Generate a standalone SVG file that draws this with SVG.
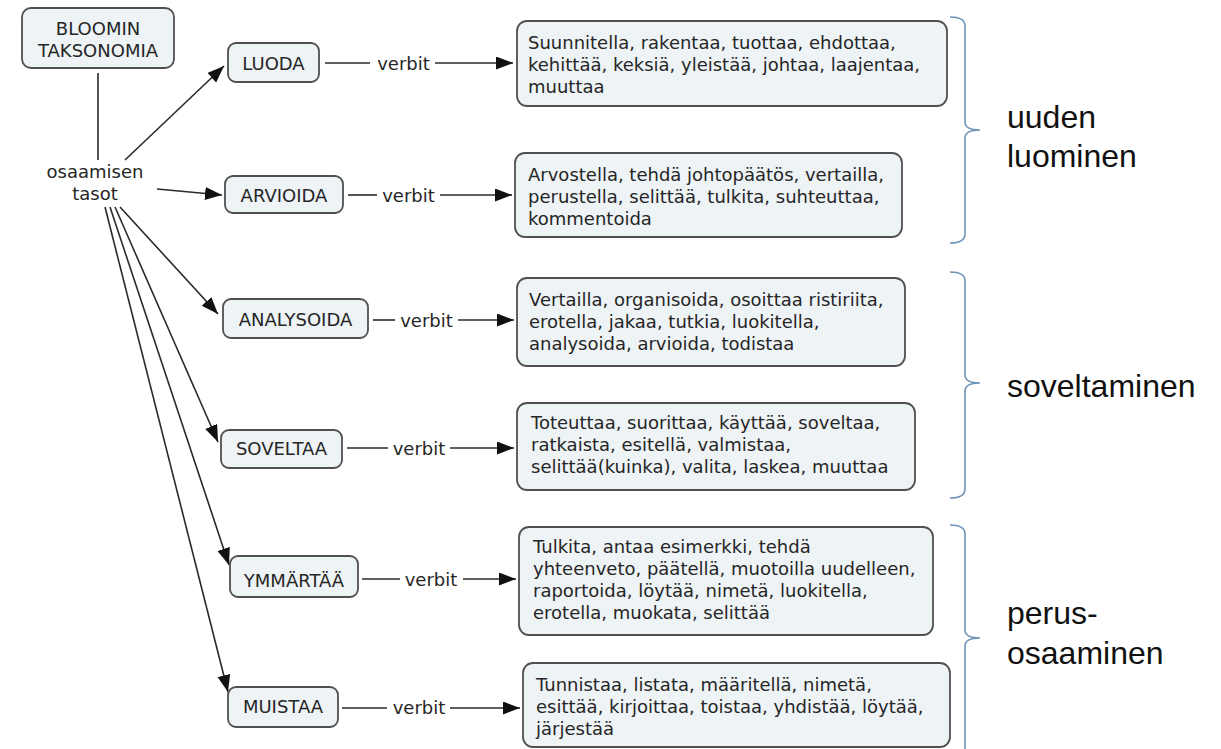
<svg xmlns="http://www.w3.org/2000/svg" width="1221" height="749" viewBox="0 0 1221 749">
<style>
.box{fill:#eef3f6;stroke:#505050;stroke-width:1.8}
.t{font-family:"DejaVu Sans",Verdana,sans-serif;font-size:18px;fill:#262626}
.c{text-anchor:middle}
.ln{stroke:#2a2a2a;stroke-width:1.6;fill:none}
.br{stroke:#6e93b8;stroke-width:1.6;fill:none}
.big{font-family:"Liberation Sans",Arial,sans-serif;font-size:32px;fill:#111}
</style>
<defs>
<marker id="ah" markerUnits="userSpaceOnUse" markerWidth="19" markerHeight="14" refX="17" refY="6.5" orient="auto">
<path d="M0,0 L17,6.5 L0,13 z" fill="#111"/>
</marker>
</defs>
<rect width="1221" height="749" fill="#fff"/>

<g id="connectors">
<line class="ln" x1="98" y1="73" x2="98" y2="160"/>
<line class="ln" x1="125" y1="160" x2="224" y2="66" marker-end="url(#ah)"/>
<line class="ln" x1="157" y1="189" x2="222" y2="195" marker-end="url(#ah)"/>
<line class="ln" x1="120" y1="207" x2="218" y2="314" marker-end="url(#ah)"/>
<line class="ln" x1="115" y1="207" x2="218" y2="442" marker-end="url(#ah)"/>
<line class="ln" x1="110" y1="207" x2="229" y2="565" marker-end="url(#ah)"/>
<line class="ln" x1="105" y1="207" x2="228" y2="692" marker-end="url(#ah)"/>

<line class="ln" x1="325" y1="63" x2="370" y2="63"/>
<text class="t c" x="403.5" y="70">verbit</text>
<line class="ln" x1="435" y1="63" x2="513" y2="63" marker-end="url(#ah)"/>

<line class="ln" x1="348" y1="195" x2="377" y2="195"/>
<text class="t c" x="408.5" y="202">verbit</text>
<line class="ln" x1="440" y1="195" x2="512" y2="195" marker-end="url(#ah)"/>

<line class="ln" x1="373" y1="320" x2="395" y2="320"/>
<text class="t c" x="426.5" y="327">verbit</text>
<line class="ln" x1="458" y1="320" x2="514" y2="320" marker-end="url(#ah)"/>

<line class="ln" x1="347" y1="448" x2="388" y2="448"/>
<text class="t c" x="419" y="455">verbit</text>
<line class="ln" x1="450" y1="448" x2="514" y2="448" marker-end="url(#ah)"/>

<line class="ln" x1="362" y1="579" x2="400" y2="579"/>
<text class="t c" x="431" y="586">verbit</text>
<line class="ln" x1="463" y1="579" x2="516" y2="579" marker-end="url(#ah)"/>

<line class="ln" x1="342" y1="708" x2="387" y2="708"/>
<text class="t c" x="419" y="714">verbit</text>
<line class="ln" x1="450" y1="708" x2="520" y2="708" marker-end="url(#ah)"/>
</g>

<g id="bloomin">
<rect class="box" x="22" y="8" width="152" height="60" rx="9"/>
<text class="t c" x="98" y="35">BLOOMIN</text>
<text class="t c" x="98" y="57">TAKSONOMIA</text>
</g>

<g id="osaamisen-tasot">
<text class="t c" x="95" y="178">osaamisen</text>
<text class="t c" x="95" y="200">tasot</text>
</g>

<g id="luoda">
<rect class="box" x="228" y="43" width="91" height="39" rx="8"/>
<text class="t c" x="273.5" y="70">LUODA</text>
</g>
<g id="arvioida">
<rect class="box" x="225" y="176" width="118" height="37" rx="8"/>
<text class="t c" x="284" y="202">ARVIOIDA</text>
</g>
<g id="analysoida">
<rect class="box" x="223" y="299" width="145" height="39" rx="8"/>
<text class="t c" x="295.5" y="326">ANALYSOIDA</text>
</g>
<g id="soveltaa">
<rect class="box" x="221" y="430" width="121" height="38" rx="8"/>
<text class="t c" x="281.5" y="455">SOVELTAA</text>
</g>
<g id="ymmartaa">
<rect class="box" x="230" y="556" width="128" height="41" rx="8"/>
<text class="t c" x="294" y="587">YMMÄRTÄÄ</text>
</g>
<g id="muistaa">
<rect class="box" x="228" y="687" width="110" height="40" rx="8"/>
<text class="t c" x="283" y="713">MUISTAA</text>
</g>

<g id="verbs-luoda">
<rect class="box" x="517" y="21" width="430" height="85" rx="10"/>
<text class="t" x="528" y="49">Suunnitella, rakentaa, tuottaa, ehdottaa,</text>
<text class="t" x="528" y="71">kehittää, keksiä, yleistää, johtaa, laajentaa,</text>
<text class="t" x="528" y="93">muuttaa</text>
</g>
<g id="verbs-arvioida">
<rect class="box" x="515" y="153" width="387" height="84" rx="10"/>
<text class="t" x="528" y="181">Arvostella, tehdä johtopäätös, vertailla,</text>
<text class="t" x="528" y="203">perustella, selittää, tulkita, suhteuttaa,</text>
<text class="t" x="528" y="225">kommentoida</text>
</g>
<g id="verbs-analysoida">
<rect class="box" x="517" y="278" width="388" height="88" rx="10"/>
<text class="t" x="529" y="306">Vertailla, organisoida, osoittaa ristiriita,</text>
<text class="t" x="529" y="328">erotella, jakaa, tutkia, luokitella,</text>
<text class="t" x="529" y="350">analysoida, arvioida, todistaa</text>
</g>
<g id="verbs-soveltaa">
<rect class="box" x="517" y="403" width="398" height="87" rx="10"/>
<text class="t" x="531" y="429">Toteuttaa, suorittaa, käyttää, soveltaa,</text>
<text class="t" x="531" y="451">ratkaista, esitellä, valmistaa,</text>
<text class="t" x="531" y="473">selittää(kuinka), valita, laskea, muuttaa</text>
</g>
<g id="verbs-ymmartaa">
<rect class="box" x="519" y="527" width="414" height="108" rx="10"/>
<text class="t" x="533" y="553">Tulkita, antaa esimerkki, tehdä</text>
<text class="t" x="533" y="575">yhteenveto, päätellä, muotoilla uudelleen,</text>
<text class="t" x="533" y="597">raportoida, löytää, nimetä, luokitella,</text>
<text class="t" x="533" y="619">erotella, muokata, selittää</text>
</g>
<g id="verbs-muistaa">
<rect class="box" x="523" y="663" width="427" height="84" rx="10"/>
<text class="t" x="536" y="691">Tunnistaa, listata, määritellä, nimetä,</text>
<text class="t" x="536" y="713">esittää, kirjoittaa, toistaa, yhdistää, löytää,</text>
<text class="t" x="536" y="735">järjestää</text>
</g>

<g id="brace-uuden">
<path class="br" d="M950,17 Q965,17 965,26 L965,122 Q965,130 980,130 Q965,130 965,138 L965,234 Q965,243 950,243"/>
<text class="big" x="1007" y="128">uuden</text>
<text class="big" x="1007" y="167">luominen</text>
</g>
<g id="brace-soveltaminen">
<path class="br" d="M950,272 Q965,272 965,281 L965,375 Q965,383 980,383 Q965,383 965,391 L965,489 Q965,498 950,498"/>
<text class="big" x="1007" y="397">soveltaminen</text>
</g>
<g id="brace-perus">
<path class="br" d="M950,525 Q965,525 965,534 L965,630 Q965,638 980,638 Q965,638 965,646 L965,760"/>
<text class="big" x="1007" y="624">perus-</text>
<text class="big" x="1007" y="664">osaaminen</text>
</g>
</svg>
